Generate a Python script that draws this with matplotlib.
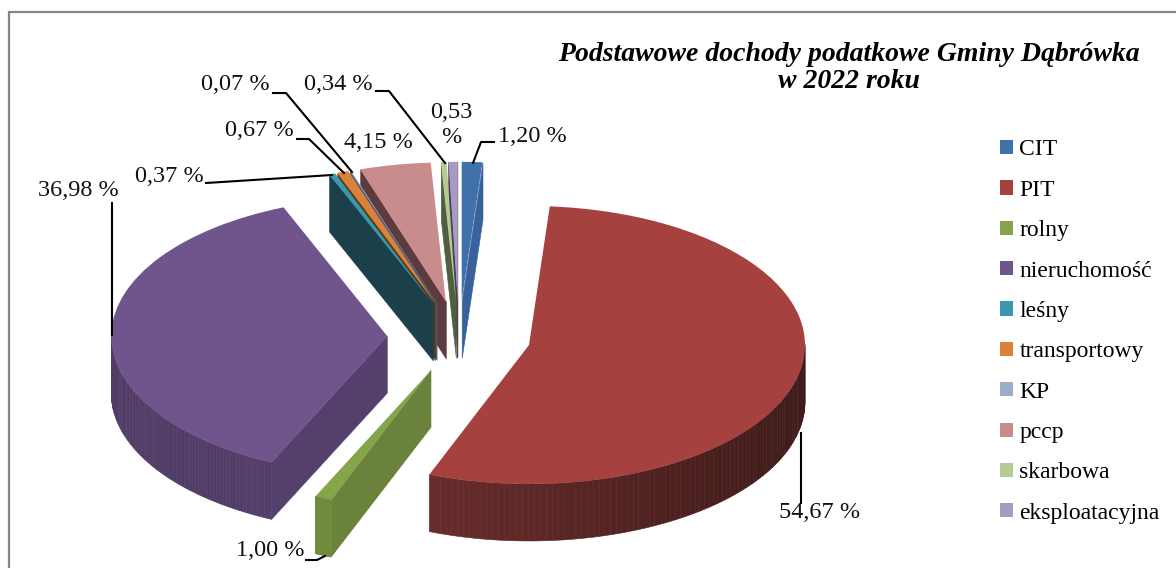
import numpy as np
import matplotlib
matplotlib.use("Agg")
import matplotlib.pyplot as plt
from matplotlib.collections import PolyCollection
from matplotlib.colors import to_rgb

plt.rcParams['font.family'] = ['Liberation Serif', 'DejaVu Serif']

# Data
categories = ['CIT', 'PIT', 'rolny', 'nieruchomość', 'leśny', 'transportowy',
              'KP', 'pccp', 'skarbowa', 'eksploatacyjna']
shares = [1.20, 54.67, 1.00, 36.98, 0.37, 0.67, 0.07, 4.15, 0.34, 0.53]
title = 'Podstawowe dochody podatkowe Gminy Dąbrówka\nw 2022 roku'

# Colours
top_colors = ['#4071aa', '#a54240', '#86a44a', '#70558c', '#3a98ae',
              '#dc8238', '#9aaeca', '#c98c8c', '#b4cc94', '#a79bc4']
side_colors = ['#38629a', '#7a3433', '#6a823c', '#53406c', '#1c3f4c',
               '#5a3a1a', '#4a5a78', '#5c3a3e', '#4f5e3e', '#4a4058']
rim_dark = ['#38629a', '#3f1b1a', '#6f8c3e', '#5c4674', '#1c3f4c',
            '#5a3a1a', '#4a5a78', '#5c3a3e', '#4f5e3e', '#4a4058']
rim_light = ['#38629a', '#7a3433', '#6f8c3e', '#4f3b65', '#1c3f4c',
             '#5a3a1a', '#4a5a78', '#5c3a3e', '#4f5e3e', '#4a4058']
draw_order = [0, 9, 8, 7, 6, 5, 4, 1, 2, 3]

# pie geometry, in pixels of the 1176x568 picture
W, H = 1176, 568
cx, cy, rx, ry = 459, 337, 276, 139
depth = 57 / ry

fig = plt.figure(figsize=(W / 100, H / 100), dpi=100)
ax = fig.add_axes([0, 0, 1, 1])
wedges, _ = ax.pie(shares, explode=[0.26] * len(shares), startangle=90,
                   counterclock=False, radius=1)
ax.set_aspect('auto')
ax.set_xlim(-cx / rx, (W - cx) / rx)
ax.set_ylim(-(H - cy) / ry, cy / ry)


def quad(x0, y0, x1, y1):
    return [(x0, y0), (x1, y1), (x1, y1 - depth), (x0, y0 - depth)]


for rank, i in enumerate(draw_order):
    w = wedges[i]
    w.set_facecolor(top_colors[i])
    w.set_edgecolor('none')
    w.set_zorder(2 * rank + 2)
    ox, oy = w.center
    polys, cols = [], []

    # cut faces that look down at the viewer
    t2, t1 = np.radians(w.theta2), np.radians(w.theta1)
    if np.cos(t2) < 0:
        polys.append(quad(ox, oy, ox + np.cos(t2), oy + np.sin(t2)))
        cols.append(to_rgb(side_colors[i]))
    if np.cos(t1) > 0:
        polys.append(quad(ox, oy, ox + np.cos(t1), oy + np.sin(t1)))
        cols.append(to_rgb(side_colors[i]))

    # outer rim, lower half of the ellipse only
    t = np.radians(np.linspace(w.theta1, w.theta2, 160))
    dark, light = np.array(to_rgb(rim_dark[i])), np.array(to_rgb(rim_light[i]))
    for a, b in zip(t[:-1], t[1:]):
        if np.sin(a) < 0 or np.sin(b) < 0:
            polys.append(quad(ox + np.cos(a), oy + np.sin(a), ox + np.cos(b), oy + np.sin(b)))
            mix = (1 - np.cos(a)) / 2
            cols.append(tuple(dark + (light - dark) * mix))

    ax.add_collection(PolyCollection(polys, facecolors=cols, edgecolors=cols,
                                     linewidths=0.4, zorder=2 * rank + 1))

ax.legend(wedges, categories, loc='upper left', bbox_to_anchor=(991 / W, 1 - 130 / H),
          bbox_transform=fig.transFigure, frameon=False, fontsize=17, handlelength=0.55,
          handleheight=0.55, handletextpad=0.25, labelspacing=0.82, borderpad=0, borderaxespad=0.4)

# text and leader lines, in picture pixels
ov = fig.add_axes([0, 0, 1, 1])
ov.set_xlim(0, W)
ov.set_ylim(H, 0)
ov.axis('off')

ov.plot([9, 9, W], [H, 12, 12], color='#868686', lw=1.6, solid_joinstyle='miter')
ov.text(849, 68, title, ha='center', va='center', fontsize=20, fontweight='bold',
        fontstyle='italic', linespacing=1.15)

labels = [f'{v:.2f} %'.replace('.', ',') for v in shares]
labels[9] = labels[9].replace(' ', '\n')
label_xy = [(532, 136), (820, 512), (270, 551), (78, 190), (169, 177),
            (259, 131), (235, 84), (378, 143), (338, 84), (451, 125)]
leaders = [([494, 481, 473], [142, 142, 163]),
           ([801, 801], [433, 503]),
           ([306, 317, 325], [560, 560, 556]),
           ([112, 112], [203, 335]),
           ([206, 332], [183, 175]),
           ([297, 309, 344], [139, 139, 173]),
           ([273, 286, 352], [93, 93, 172]),
           None,
           ([376, 389, 445], [91, 91, 163]),
           None]
for text, (x, y), leader in zip(labels, label_xy, leaders):
    ov.text(x, y, text, ha='center', va='center', fontsize=17.5, linespacing=1.25, color='#111111')
    if leader:
        ov.plot(leader[0], leader[1], color='black', lw=1.5)

fig.savefig('out.png', dpi=100)
